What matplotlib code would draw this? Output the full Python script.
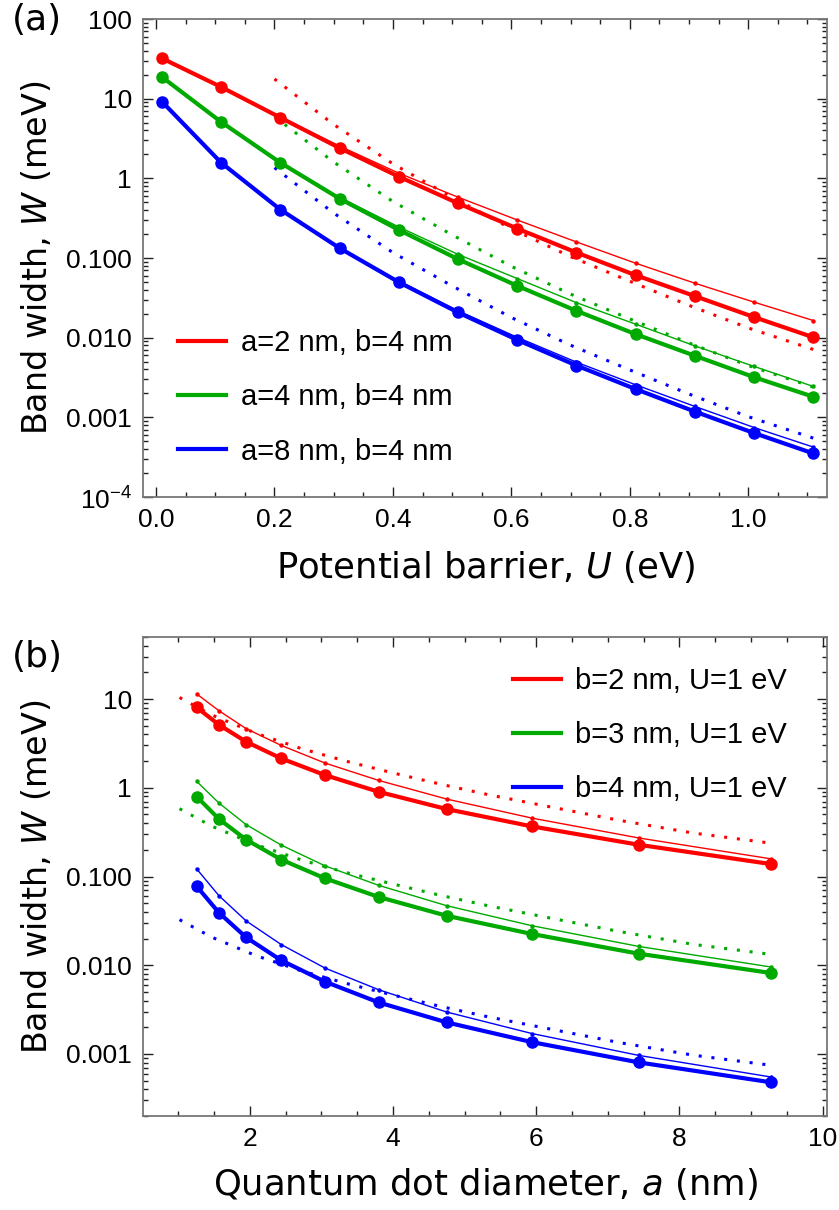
import numpy as np
import matplotlib
matplotlib.use('Agg')
import matplotlib.pyplot as plt
from matplotlib.ticker import FixedLocator, FixedFormatter, NullFormatter

plt.rcParams['mathtext.fontset'] = 'custom'
plt.rcParams['mathtext.rm'] = 'Liberation Sans'
plt.rcParams['mathtext.it'] = 'DejaVu Sans:italic'

RED, GREEN, BLUE = '#ff0000', '#00aa00', '#0000ff'

# ---- panel (a): band width vs potential barrier ----
U_pts = [0.01, 0.11, 0.21, 0.31, 0.41, 0.51, 0.61, 0.71, 0.81, 0.91, 1.01, 1.11]
Wa_a2 = [32.1, 14.0, 5.78, 2.40, 1.05, 0.486, 0.234, 0.117, 0.0608, 0.0332, 0.0181, 0.0101]
Wa_a2_thin = [32.1, 14.0, 5.9, 2.54, 1.16, 0.58, 0.30, 0.159, 0.0859, 0.0482, 0.0279, 0.0164]
Wa_a4 = [18.7, 5.1, 1.57, 0.556, 0.225, 0.0966, 0.0447, 0.0217, 0.01106, 0.00592, 0.00319, 0.00181]
Wa_a4_thin = [18.7, 5.1, 1.60, 0.578, 0.245, 0.111, 0.0552, 0.0275, 0.01476, 0.00788, 0.00435, 0.00244]
Wa_a8 = [9.18, 1.57, 0.405, 0.133, 0.0497, 0.0207, 0.00937, 0.00447, 0.00226, 0.00118, 0.000634, 0.000352]
Wa_a8_thin = [9.18, 1.58, 0.41, 0.136, 0.0515, 0.0218, 0.0101, 0.00492, 0.00256, 0.00137, 0.000745, 0.000423]

U_dot = [0.2, 0.3, 0.4, 0.5, 0.6, 0.7, 0.8, 0.9, 1.0, 1.11]
Wa_a2_dot = [17.66, 4.74, 1.52, 0.578, 0.233, 0.104, 0.0511, 0.0254, 0.01324, 0.00711]
Wa_a4_dot = [5.96, 1.60, 0.512, 0.195, 0.0785, 0.0352, 0.0172, 0.00857, 0.00447, 0.0024]
Wa_a8_dot = [1.36, 0.366, 0.117, 0.0446, 0.0179, 0.00804, 0.00394, 0.00196, 0.00102, 0.000548]

labels_a = ['a=2 nm, b=4 nm', 'a=4 nm, b=4 nm', 'a=8 nm, b=4 nm']

# ---- panel (b): band width vs dot diameter ----
a_pts = [1.26, 1.57, 1.95, 2.44, 3.05, 3.80, 4.75, 5.94, 7.43, 9.28]
Wb_b2 = [8.04, 5.13, 3.30, 2.14, 1.39, 0.90, 0.575, 0.367, 0.228, 0.138]
Wb_b2_thin = [11.4, 7.38, 4.64, 3.0, 1.90, 1.21, 0.746, 0.455, 0.272, 0.158]
Wb_b3 = [0.793, 0.445, 0.260, 0.155, 0.0953, 0.0588, 0.0361, 0.0225, 0.0135, 0.00817]
Wb_b3_thin = [1.18, 0.673, 0.384, 0.226, 0.132, 0.0795, 0.0469, 0.0279, 0.0163, 0.00955]
Wb_b4 = [0.0775, 0.0391, 0.0206, 0.01135, 0.00653, 0.00381, 0.00227, 0.00136, 0.000804, 0.000479]
Wb_b4_thin = [0.1216, 0.0608, 0.0316, 0.0171, 0.0093, 0.0053, 0.00297, 0.0017, 0.000964, 0.00055]

a_dot = [1.02, 1.47, 2.09, 2.74, 3.38, 4.03, 4.68, 5.33, 6.15, 7.17, 8.19, 9.2]
Wb_b2_dot = [10.4, 6.61, 4.10, 2.73, 1.96, 1.45, 1.09, 0.836, 0.619, 0.428, 0.309, 0.242]
Wb_b3_dot = [0.581, 0.369, 0.228, 0.152, 0.109, 0.0812, 0.0609, 0.0468, 0.0346, 0.0239, 0.0172, 0.0135]
Wb_b4_dot = [0.0326, 0.0207, 0.0128, 0.00855, 0.00614, 0.00455, 0.00341, 0.00262, 0.00194, 0.00134, 0.00097, 0.00076]

labels_b = ['b=2 nm, U=1 eV', 'b=3 nm, U=1 eV', 'b=4 nm, U=1 eV']

W, H = 839, 1210
fig = plt.figure(figsize=(W/100, H/100), dpi=100)

def px_axes(l, t, r, b):
    return fig.add_axes([l/W, 1 - b/H, (r-l)/W, (b-t)/H])

TICKFONT = 'Liberation Sans'
LABFONT = 'DejaVu Sans'

def style(ax):
    for s in ax.spines.values():
        s.set_color('#777777')
        s.set_linewidth(1.3)
    ax.tick_params(which='both', direction='in', top=True, right=True,
                   color='#222222', width=1.0, labelsize=19, pad=8)
    ax.tick_params(which='major', length=7)
    ax.tick_params(which='minor', length=3.5)
    for lab in ax.get_xticklabels() + ax.get_yticklabels():
        lab.set_fontfamily(TICKFONT)

def draw(ax, x, thick, thin, xd, dot, c, lab):
    ax.plot(x, thin, color=c, lw=1.0, marker='o', ms=2.2, zorder=3)
    ax.plot(x, thick, color=c, lw=3.0, marker='o', ms=8, zorder=4, label=lab)
    ax.plot(xd, dot, color=c, lw=2.2, ls=(0, (1, 3.2)), zorder=2)

legend_kw = dict(frameon=False, prop={'family': TICKFONT, 'size': 21},
                 handlelength=1.65, handletextpad=0.5, labelspacing=0.9, borderpad=0)

# panel (a)
ax1 = px_axes(143, 19, 827, 497)
ax1.set_yscale('log')
draw(ax1, U_pts, Wa_a2, Wa_a2_thin, U_dot, Wa_a2_dot, RED, labels_a[0])
draw(ax1, U_pts, Wa_a4, Wa_a4_thin, U_dot, Wa_a4_dot, GREEN, labels_a[1])
draw(ax1, U_pts, Wa_a8, Wa_a8_thin, U_dot, Wa_a8_dot, BLUE, labels_a[2])
ax1.set_xlim(-0.022, 1.133)
ax1.set_ylim(1e-4, 100)
ax1.xaxis.set_major_locator(FixedLocator([0, 0.2, 0.4, 0.6, 0.8, 1.0]))
ax1.xaxis.set_major_formatter(FixedFormatter(['0.0', '0.2', '0.4', '0.6', '0.8', '1.0']))
ax1.xaxis.set_minor_locator(FixedLocator(np.arange(0, 1.15, 0.05)))
ydec_a = [1e-4, 1e-3, 1e-2, 1e-1, 1, 10, 100]
ax1.yaxis.set_major_locator(FixedLocator(ydec_a))
ax1.yaxis.set_major_formatter(FixedFormatter([r'$10^{-4}$', '0.001', '0.010', '0.100', '1', '10', '100']))
ax1.yaxis.set_minor_locator(FixedLocator([m*d for d in ydec_a[:-1] for m in range(2, 10)]))
ax1.yaxis.set_minor_formatter(NullFormatter())
style(ax1)
ax1.set_xlabel(r'Potential barrier, $U$ (eV)', fontsize=25.5, family=LABFONT, labelpad=12)
ax1.set_ylabel(r'Band width, $W$ (meV)', fontsize=24, family=LABFONT, labelpad=9)
leg1 = ax1.legend(loc='lower left', bbox_to_anchor=(0.03, 0.035), **legend_kw)
for h in leg1.legend_handles:
    h.set_marker('')
fig.text(37/W, 1 - 20/H, '(a)', fontsize=26, family=LABFONT, ha='center', va='center')

# panel (b)
ax2 = px_axes(143, 637, 827, 1116)
ax2.set_yscale('log')
draw(ax2, a_pts, Wb_b2, Wb_b2_thin, a_dot, Wb_b2_dot, RED, labels_b[0])
draw(ax2, a_pts, Wb_b3, Wb_b3_thin, a_dot, Wb_b3_dot, GREEN, labels_b[1])
draw(ax2, a_pts, Wb_b4, Wb_b4_thin, a_dot, Wb_b4_dot, BLUE, labels_b[2])
ax2.set_xlim(0.51, 10.06)
ax2.set_ylim(2e-4, 50)
ax2.xaxis.set_major_locator(FixedLocator([2, 4, 6, 8, 10]))
ax2.xaxis.set_major_formatter(FixedFormatter(['2', '4', '6', '8', '10']))
ax2.xaxis.set_minor_locator(FixedLocator(np.arange(1, 10.01, 0.5)))
ydec_b = [1e-4, 1e-3, 1e-2, 1e-1, 1, 10]
ax2.yaxis.set_major_locator(FixedLocator(ydec_b[1:]))
ax2.yaxis.set_major_formatter(FixedFormatter(['0.001', '0.010', '0.100', '1', '10']))
ax2.yaxis.set_minor_locator(FixedLocator([m*d for d in ydec_b for m in range(2, 10)]))
ax2.yaxis.set_minor_formatter(NullFormatter())
style(ax2)
ax2.set_xlabel(r'Quantum dot diameter, $a$ (nm)', fontsize=25.5, family=LABFONT, labelpad=11)
ax2.set_ylabel(r'Band width, $W$ (meV)', fontsize=24, family=LABFONT, labelpad=9)
leg2 = ax2.legend(loc='upper right', bbox_to_anchor=(0.963, 0.968), **legend_kw)
for h in leg2.legend_handles:
    h.set_marker('')
fig.text(37/W, 1 - 657/H, '(b)', fontsize=26, family=LABFONT, ha='center', va='center')

fig.savefig('out.png', dpi=100)
